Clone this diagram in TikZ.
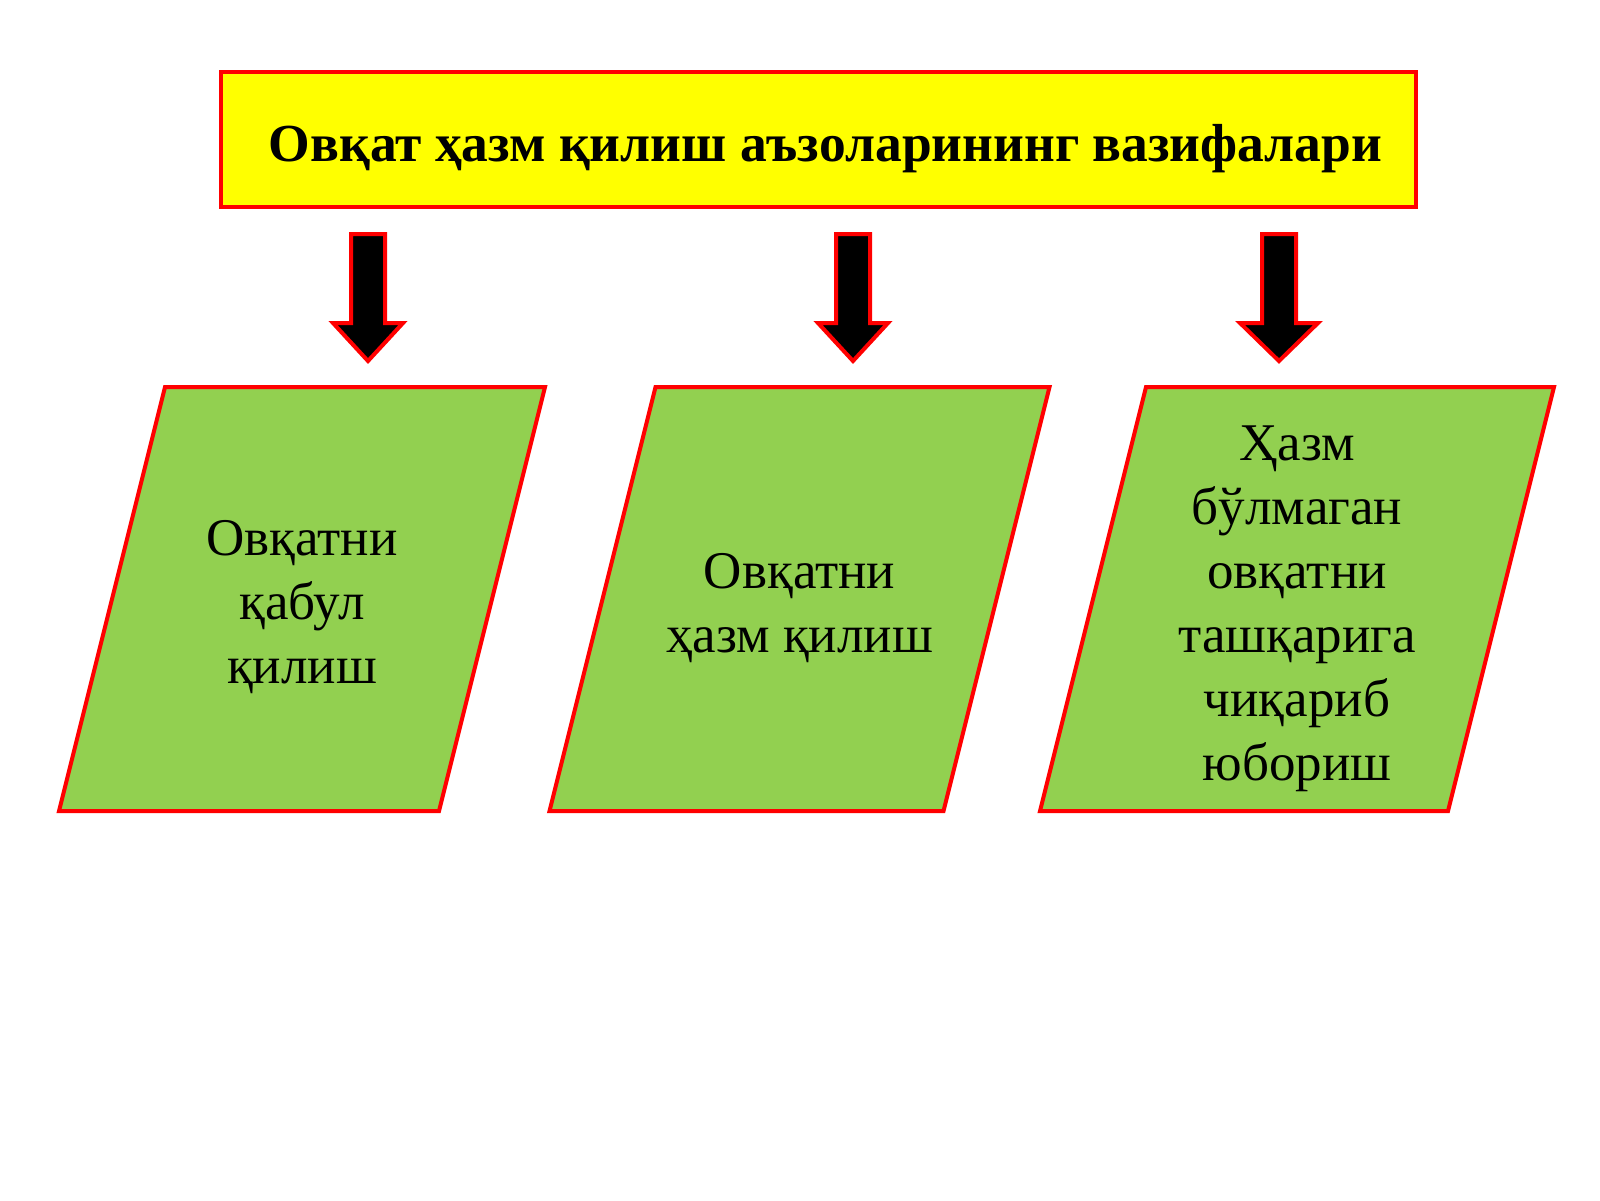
\documentclass[tikz,border=0pt]{standalone}
\usepackage{fontspec}
\setmainfont{Liberation Serif}
\definecolor{titleyellow}{HTML}{FFFF00}
\definecolor{boxgreen}{HTML}{92D050}
\definecolor{edgered}{HTML}{FF0000}
\tikzset{
  titlebox/.style={draw=edgered, line width=4pt, fill=titleyellow, inner sep=0pt,
    minimum width=1195pt, minimum height=135pt},
  titlefont/.style={font=\fontsize{53.5}{64}\selectfont\bfseries, text=black},
  parbox/.style={draw=edgered, line width=4pt, fill=boxgreen, line join=miter},
  blockarrow/.style={draw=edgered, line width=4pt, fill=black, line join=miter},
  boxtext/.style={font=\fontsize{53}{64}\selectfont, align=center, text=black}
}
\begin{document}
\begin{tikzpicture}[x=1pt, y=-1pt]
    \useasboundingbox (0,0) rectangle (1600,1200);
    \fill[white] (0,0) rectangle (1600,1200);

    % title
    \node (title) [titlebox] at (818.5,139.5) {};
    \node (titletext) [titlefont] at ([xshift=7pt,yshift=-9pt]title.center) {Овқат ҳазм қилиш аъзоларининг вазифалари};

    % arrows
    \foreach \x/\h[count=\i] in {368/35,853/35,1279/39}
    {\coordinate (a\i) at (\x,234);
    \draw[blockarrow] (a\i) ++(-17,0) -- ++(34,0) -- ++(0,89) -- ++(\h-17,0) -- ++(-\h,38) -- ++(-\h,-38) -- ++(\h-17,0) -- cycle;}

    % boxes
    \foreach \x/\w[count=\i] in {302/190,799.5/197,1297/204}
    {\draw[parbox] (\x+53-\w,387) -- (\x+53+\w,387) -- (\x-53+\w,811) -- (\x-53-\w,811) -- cycle;}

    \node (recv) [boxtext] at (302,607) {Овқатни\\қабул\\қилиш};
    \node (digest) [boxtext] at (799.5,608) {Овқатни\\ҳазм қилиш};
    \node (expel) [boxtext] at (1297,609) {Ҳазм\\бўлмаган\\овқатни\\ташқарига\\чиқариб\\юбориш};
\end{tikzpicture}
\end{document}
